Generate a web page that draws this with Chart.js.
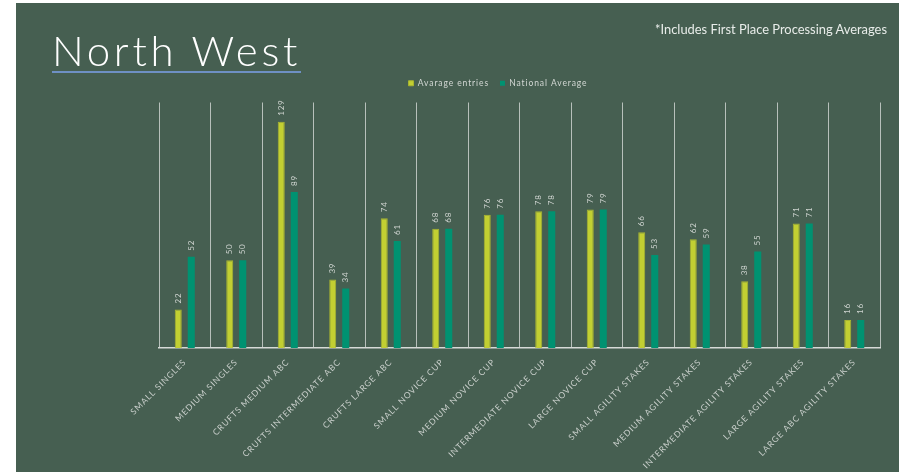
<!DOCTYPE html>
<html>
<head>
<meta charset="utf-8">
<script src="https://cdn.jsdelivr.net/npm/chart.js@4/dist/chart.umd.min.js"></script>
<style>
  html, body { margin: 0; padding: 0; background: #ffffff; }
  #panel { position: absolute; left: 16px; top: 3px; width: 883px; height: 469px; background: #465f51; overflow: hidden; }
  #chartWrap { position: absolute; left: 0; top: 0; width: 883px; height: 469px; }
  #title { position: absolute; left: 36px; top: 26px; font-family: Lato, "Noto Sans", sans-serif; font-weight: 300; font-size: 42px; line-height: 42px; color: #ffffff; letter-spacing: 3.7px; padding-bottom: 0px; border-bottom: 2px solid #6e90c4; white-space: nowrap; }
  #note { position: absolute; right: 12px; top: 18px; font-family: Lato, "Noto Sans", sans-serif; font-size: 12.9px; color: #e8ece9; white-space: nowrap; }
</style>
</head>
<body>
<div id="panel">
  <div id="chartWrap"><canvas id="c"></canvas></div>
  <div id="title">North West</div>
  <div id="note">*Includes First Place Processing Averages</div>
</div>
<script>
const categories = [
  "SMALL SINGLES", "MEDIUM SINGLES", "CRUFTS MEDIUM ABC", "CRUFTS INTERMEDIATE ABC",
  "CRUFTS LARGE ABC", "SMALL NOVICE CUP", "MEDIUM NOVICE CUP", "INTERMEDIATE NOVICE CUP",
  "LARGE NOVICE CUP", "SMALL AGILITY STAKES", "MEDIUM AGILITY STAKES",
  "INTERMEDIATE AGILITY STAKES", "LARGE AGILITY STAKES", "LARGE ABC AGILITY STAKES"
];
const averageEntries = [22, 50, 129, 39, 74, 68, 76, 78, 79, 66, 62, 38, 71, 16];
const nationalAverage = [52, 50, 89, 34, 61, 68, 76, 78, 79, 53, 59, 55, 71, 16];
const seriesNames = ["Avarage entries", "National Average"];
const yMin = 0;
const yMax = 140;

const FONT = "Lato, 'Noto Sans', sans-serif";
const SPACING = '0.9px';

const spacingPlugin = {
  id: 'spacing',
  beforeInit(chart) { chart.ctx.letterSpacing = SPACING; },
  beforeLayout(chart) { chart.ctx.letterSpacing = SPACING; },
  beforeDraw(chart) { chart.ctx.letterSpacing = SPACING; }
};

const valueLabels = {
  id: 'valueLabels',
  afterDatasetsDraw(chart) {
    const ctx = chart.ctx;
    ctx.save();
    ctx.letterSpacing = '0.8px';
    ctx.font = "8px " + FONT;
    ctx.fillStyle = '#cfd4d0';
    ctx.textAlign = 'left';
    ctx.textBaseline = 'middle';
    chart.data.datasets.forEach((ds, di) => {
      const meta = chart.getDatasetMeta(di);
      meta.data.forEach((el, i) => {
        ctx.save();
        ctx.translate(el.x, el.y - 6);
        ctx.rotate(-Math.PI / 2);
        ctx.fillText(String(ds.data[i]), 0, 0);
        ctx.restore();
      });
    });
    ctx.restore();
  }
};

new Chart(document.getElementById('c'), {
  type: 'bar',
  data: {
    labels: categories,
    datasets: [
      { label: seriesNames[0], data: averageEntries, backgroundColor: '#c2cf32', borderColor: '#a9b530', borderWidth: 1, barPercentage: 0.54, categoryPercentage: 0.505 },
      { label: seriesNames[1], data: nationalAverage, backgroundColor: '#009271', borderWidth: 0, barPercentage: 0.54, categoryPercentage: 0.505 }
    ]
  },
  options: {
    responsive: true,
    maintainAspectRatio: false,
    animation: false,
    layout: { padding: { left: 100, right: 19, top: 65, bottom: 0 } },
    plugins: {
      tooltip: { enabled: false },
      legend: {
        position: 'top',
        labels: {
          boxWidth: 5, boxHeight: 5, padding: 11,
          color: '#d3d8d4',
          font: { size: 8.5, family: FONT }
        }
      }
    },
    scales: {
      x: {
        grid: {
          offset: true,
          drawTicks: false,
          color: (c) => (c.index === categories.length ? 'rgba(0,0,0,0)' : '#b7c0bb'),
          lineWidth: 1
        },
        border: { display: true, color: '#d6dad7', width: 1.5 },
        ticks: {
          color: '#c9cfcb',
          font: { size: 8.5, family: FONT },
          maxRotation: 45, minRotation: 45,
          autoSkip: false,
          padding: 9
        },
        afterFit(s) { s.height = 124; }
      },
      xTopGap: {
        type: 'category',
        position: 'top',
        display: true,
        grid: { display: false },
        border: { display: false },
        ticks: { display: false },
        afterFit(s) { s.height = 5; }
      },
      y: {
        min: yMin, max: yMax,
        display: true,
        grid: { display: false },
        border: { display: false },
        ticks: { display: false },
        afterFit(s) { s.width = 43; }
      }
    }
  },
  plugins: [spacingPlugin, valueLabels]
});
</script>
</body>
</html>
